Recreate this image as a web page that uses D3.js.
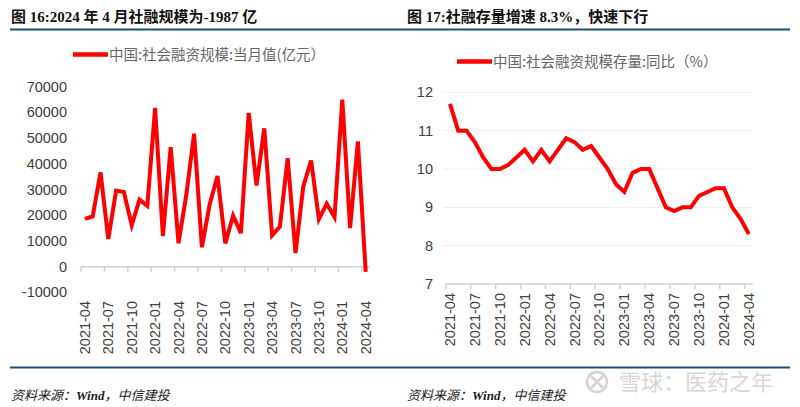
<!DOCTYPE html>
<html><head><meta charset="utf-8">
<script src="https://cdn.jsdelivr.net/npm/d3@7/dist/d3.min.js"></script>
<style>body{margin:0;background:#fff}svg{display:block}</style>
</head><body>
<script>
// ---- data ----
const months = ["2021-04","2021-05","2021-06","2021-07","2021-08","2021-09","2021-10","2021-11","2021-12",
  "2022-01","2022-02","2022-03","2022-04","2022-05","2022-06","2022-07","2022-08","2022-09","2022-10","2022-11","2022-12",
  "2023-01","2023-02","2023-03","2023-04","2023-05","2023-06","2023-07","2023-08","2023-09","2023-10","2023-11","2023-12",
  "2024-01","2024-02","2024-03","2024-04"];
const tsfMonthly = [18570,19522,36699,10752,29593,29026,16176,26052,23682,
  61726,11928,46531,9102,27921,51733,7561,24274,35274,9079,19837,13058,
  59800,31600,53800,12200,15600,42200,5282,31200,41300,18500,24500,19300,
  65000,15000,48700,-1987];
const tsfStockYoY = [11.7,11.0,11.0,10.7,10.3,10.0,10.0,10.1,10.3,
  10.5,10.2,10.5,10.2,10.5,10.8,10.7,10.5,10.6,10.3,10.0,9.6,
  9.4,9.9,10.0,10.0,9.5,9.0,8.9,9.0,9.0,9.3,9.4,9.5,
  9.5,9.0,8.7,8.3];
const tickMonths = ["2021-04","2021-07","2021-10","2022-01","2022-04","2022-07","2022-10",
  "2023-01","2023-04","2023-07","2023-10","2024-01","2024-04"];
const leftYTicks = [-10000,0,10000,20000,30000,40000,50000,60000,70000];
const rightYTicks = [7,8,9,10,11,12];
const leftTitle = "图 16:2024 年 4 月社融规模为-1987 亿";
const rightTitle = "图 17:社融存量增速 8.3%，快速下行";
const leftLegend = "中国:社会融资规模:当月值(亿元）";
const rightLegend = "中国:社会融资规模存量:同比（%）";
const sourceParts = ["资料来源：", "Wind", "，中信建投"];
const watermark = "雪球：医药之年";

// ---- drawing ----
const W = 800, H = 407;
const svg = d3.select("body").append("svg").attr("width", W).attr("height", H);
const sans = "'Liberation Sans', Arial, 'Noto Sans CJK SC', sans-serif";
const serif = "'Liberation Serif', 'Times New Roman', 'Noto Sans CJK SC', serif";
const cjk = "'Noto Sans CJK SC', 'Liberation Sans', sans-serif";
const navy = "#1f4e79";

// header / footer rules
svg.append("line").attr("x1",10).attr("x2",790).attr("y1",29.5).attr("y2",29.5)
  .attr("stroke",navy).attr("stroke-width",2);
svg.append("line").attr("x1",10).attr("x2",790).attr("y1",367.5).attr("y2",367.5)
  .attr("stroke",navy).attr("stroke-width",2);

function title(x, t){
  svg.append("text").attr("x",x).attr("y",21.5).text(t)
    .attr("font-family",serif).attr("font-weight","bold").attr("font-size",15).attr("fill","#111");
}
title(11, leftTitle);
title(407, rightTitle);

function source(x){
  const t = svg.append("text").attr("x",x).attr("y",400)
    .attr("font-family",serif).attr("font-style","italic").attr("font-size",13).attr("fill","#222");
  t.selectAll("tspan").data(sourceParts).enter().append("tspan")
    .attr("font-weight", (d,i) => i === 1 ? "bold" : "normal").text(d => d);
}
source(11); source(407);

function panel(cfg){
  const g = svg.append("g");
  const x = d3.scaleBand().domain(months).range([cfg.x0, cfg.x1]).paddingInner(0).paddingOuter(0);
  const y = d3.scaleLinear().domain(cfg.ydom).range([cfg.yb, cfg.yt]);
  const bw = x.bandwidth();

  // gridlines
  if (cfg.grid) {
    g.selectAll("line.grid").data(cfg.yticks.filter(d => d !== cfg.ydom[0])).enter().append("line")
      .attr("x1", cfg.gx0).attr("x2", cfg.x1).attr("y1", d => y(d)).attr("y2", d => y(d))
      .attr("stroke", "#eeeeee").attr("stroke-width", 1);
  }
  // y labels
  g.selectAll("text.yl").data(cfg.yticks).enter().append("text")
    .attr("x", cfg.ylabX).attr("y", d => y(d)).attr("dy","0.35em").attr("text-anchor","end")
    .attr("font-family", sans).attr("font-size", 14.5).attr("fill", "#404040").text(d => d);

  // category axis
  const ay = y(cfg.axisAt);
  g.append("line").attr("x1", cfg.x0).attr("x2", cfg.x1).attr("y1", ay).attr("y2", ay)
    .attr("stroke", "#d0d0d0").attr("stroke-width", 1.5);
  g.selectAll("line.tk").data(tickMonths).enter().append("line")
    .attr("x1", d => x(d)).attr("x2", d => x(d)).attr("y1", ay).attr("y2", ay + 5)
    .attr("stroke", "#d0d0d0").attr("stroke-width", 1.5);
  g.selectAll("text.xl").data(tickMonths).enter().append("text")
    .attr("transform", d => `translate(${x(d) + bw/2},${cfg.labTop}) rotate(-90)`)
    .attr("text-anchor","end").attr("dy","0.35em")
    .attr("font-family", sans).attr("font-size", 14.5).attr("fill", "#404040").text(d => d);

  // series line
  const line = d3.line().x((d,i) => x(months[i]) + bw/2).y(d => y(d));
  g.append("path").datum(cfg.values).attr("d", line)
    .attr("fill","none").attr("stroke","#ff0000").attr("stroke-width",4).attr("stroke-linejoin","miter");

  // legend
  g.append("line").attr("x1", cfg.legX).attr("x2", cfg.legX + 35).attr("y1", cfg.legY).attr("y2", cfg.legY)
    .attr("stroke","#ff0000").attr("stroke-width",4.5);
  g.append("text").attr("x", cfg.legX + 36).attr("y", cfg.legY).attr("dy","0.35em")
    .attr("font-family", cjk).attr("font-size", 14.5).attr("fill", "#666").text(cfg.legend);
}

panel({
  x0: 81, x1: 369.6, ydom: [-10000, 70000], yb: 292.4, yt: 86.7,
  yticks: leftYTicks, ylabX: 67, axisAt: 0, labTop: 301, grid: false,
  values: tsfMonthly, legX: 73, legY: 54.5, legend: leftLegend
});
panel({
  x0: 445.8, x1: 753, gx0: 443, ydom: [7, 12], yb: 284, yt: 92.3,
  yticks: rightYTicks, ylabX: 433, axisAt: 7, labTop: 293, grid: true,
  values: tsfStockYoY, legX: 457, legY: 61.5, legend: rightLegend
});

// watermark
const wm = svg.append("g").attr("opacity", 0.9);
wm.append("circle").attr("cx", 597).attr("cy", 382).attr("r", 10)
  .attr("fill","none").attr("stroke","#cfcfcf").attr("stroke-width",2.5);
wm.append("path").attr("d","M591,376 L603,388 M603,376 L591,388")
  .attr("stroke","#cfcfcf").attr("stroke-width",2.5).attr("fill","none");
wm.append("text").attr("x", 619).attr("y", 382).attr("dy","0.36em").text(watermark)
  .attr("font-family", cjk).attr("font-size", 22).attr("fill", "#d2d2d2");
</script>
</body></html>
